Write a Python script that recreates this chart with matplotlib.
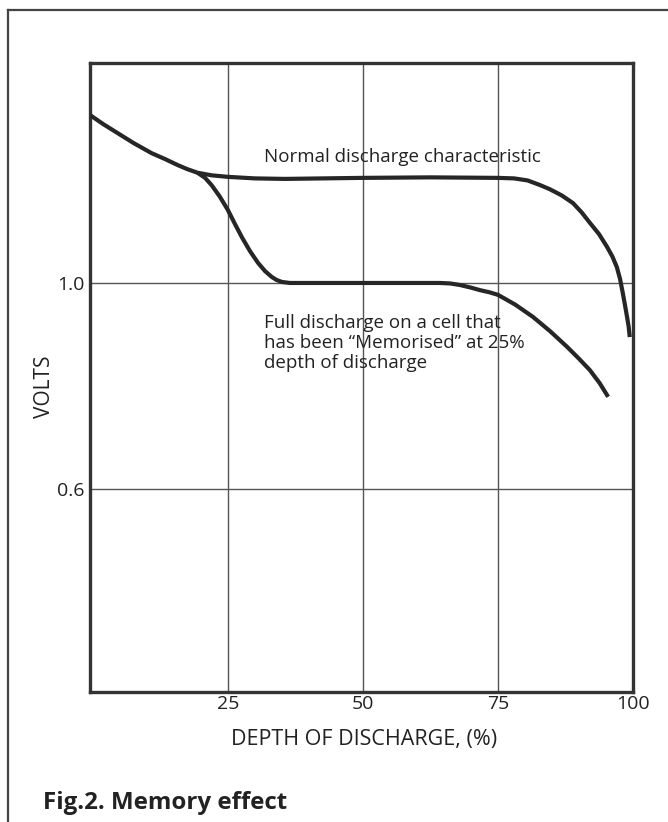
import matplotlib
matplotlib.use("Agg")
import matplotlib.pyplot as plt
from matplotlib.lines import Line2D

plt.rcParams['font.family'] = ['Open Sans', 'DejaVu Sans']

# ---- data ----
normal_depth = [-0.5, 2.0, 4.6, 7.5, 10.9, 13.5, 15.7, 17.5, 19.4, 22.0, 25.0, 30.0, 35.6,
                49.8, 62.5, 75.0, 78.0, 80.5, 82.8, 84.6, 86.8, 88.9, 90.5, 92.0, 93.7,
                95.2, 96.2, 97.0, 97.6, 98.1, 98.5, 98.9, 99.2, 99.4]
normal_volts = [1.326, 1.308, 1.291, 1.272, 1.252, 1.240, 1.229, 1.221, 1.214, 1.209, 1.206,
                1.203, 1.202, 1.204, 1.205, 1.204, 1.203, 1.199, 1.190, 1.182, 1.170, 1.155,
                1.137, 1.117, 1.095, 1.070, 1.051, 1.031, 1.008, 0.981, 0.958, 0.934, 0.915,
                0.895]

memo_depth = [19.4, 20.8, 22.0, 23.5, 25.0, 26.3, 27.6, 29.1, 30.6, 31.9, 33.1, 34.0, 35.0,
              36.5, 50.0, 62.0, 64.3, 66.2, 68.0, 70.0, 71.7, 73.4, 75.0, 78.2, 81.5, 84.7,
              87.8, 90.0, 92.0, 93.8, 95.4]
memo_volts = [1.214, 1.204, 1.190, 1.168, 1.142, 1.115, 1.089, 1.062, 1.039, 1.023, 1.012,
              1.006, 1.002, 1.000, 1.000, 1.000, 1.000, 0.999, 0.996, 0.991, 0.986, 0.982,
              0.977, 0.958, 0.934, 0.906, 0.876, 0.853, 0.831, 0.806, 0.779]

x_ticks = [25, 50, 75, 100]
x_tick_labels = ['25', '50', '75', '100']
y_ticks = [0.6, 1.0]
y_tick_labels = ['0.6', '1.0']

W, H = 668, 822
fig = plt.figure(figsize=(W / 100, H / 100), dpi=100)
fig.patch.set_facecolor('white')

ax = fig.add_axes([90 / W, 1 - 692 / H, (633 - 90) / W, (692 - 63) / H])
ax.set_xlim(-0.5, 100)
ax.set_ylim(0.206, 1.427)

line_col = '#262626'
ax.plot(normal_depth, normal_volts, color=line_col, lw=3.0, solid_capstyle='butt',
        solid_joinstyle='round', zorder=3)
ax.plot(memo_depth, memo_volts, color=line_col, lw=3.0, solid_capstyle='butt',
        solid_joinstyle='round', zorder=3)

# grid
for xv in [25, 50, 75]:
    ax.axvline(xv, color='#555555', lw=1.0, zorder=1)
for yv in y_ticks:
    ax.axhline(yv, color='#555555', lw=1.0, zorder=1)

ax.set_xticks(x_ticks)
ax.set_xticklabels(x_tick_labels)
ax.set_yticks(y_ticks)
ax.set_yticklabels(y_tick_labels)
ax.tick_params(axis='both', length=0, labelsize=14, colors='#222222')
ax.tick_params(axis='x', pad=2)
ax.tick_params(axis='y', pad=4)

for s in ax.spines.values():
    s.set_color('#333333')
    s.set_linewidth(2.4)

ax.set_xlabel('DEPTH OF DISCHARGE, (%)', fontsize=15.5, color='#222222')
ax.xaxis.set_label_coords(0.505, (692 - 739) / 629)
ax.xaxis.label.set_va('center')
ax.set_ylabel('VOLTS', fontsize=15, color='#222222')
ax.yaxis.set_label_coords((44 - 90) / 543, (692 - 387) / 629)
ax.yaxis.label.set_va('center')

ax.text(31.7, 1.245, 'Normal discharge characteristic', fontsize=13.5,
        color='#222222', va='center', ha='left')
ax.text(31.7, 0.939, 'Full discharge on a cell that\nhas been \u201cMemorised\u201d at 25%\ndepth of discharge',
        fontsize=13.5, color='#222222', va='top', ha='left', linespacing=1.12)

fig.text(43 / W, 1 - 803 / H, 'Fig.2. Memory effect', fontsize=17.4, fontweight='bold',
         color='#222222', va='center', ha='left')

# outer frame lines
fig.add_artist(Line2D([8 / W, 1.0], [1 - 10 / H, 1 - 10 / H], transform=fig.transFigure,
                      color='#444444', lw=1.6))
fig.add_artist(Line2D([8 / W, 8 / W], [0, 1 - 10 / H], transform=fig.transFigure,
                      color='#444444', lw=1.6))

fig.savefig('out.png', dpi=100, facecolor='white')
